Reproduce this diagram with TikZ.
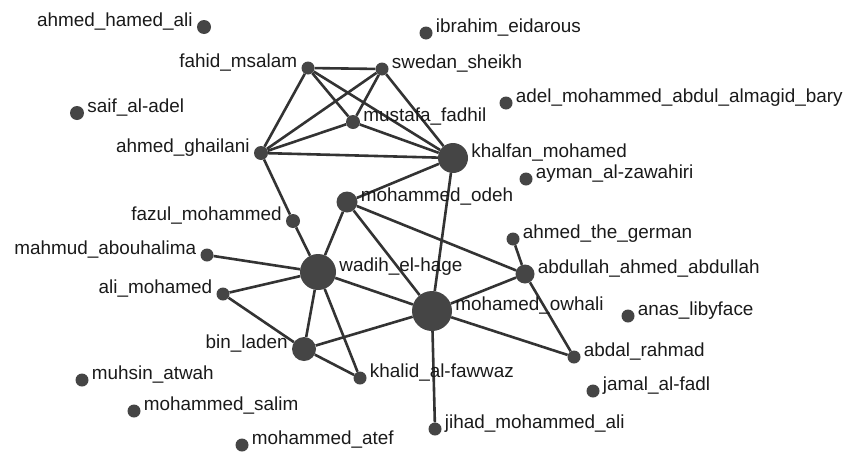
\documentclass[tikz,border=0pt]{standalone}
\usepackage{fontspec}
\setmainfont{Liberation Sans}
\usetikzlibrary{backgrounds}
\definecolor{nodegray}{HTML}{454545}
\definecolor{edgegray}{HTML}{333333}
\definecolor{txtgray}{HTML}{1A1A1A}
\tikzset{
  actor/.style={circle, fill=nodegray, draw=none, inner sep=0pt, minimum size=#1},
  actor/.default={13pt},
  lab/.style={inner sep=0pt, text=txtgray, font=\fontsize{18.9}{20}\selectfont},
  labR/.style={lab, anchor=base west, xshift=3pt, yshift=1pt},
  labL/.style={lab, anchor=base east, xshift=-4pt, yshift=1pt},
  tie/.style={draw=edgegray, line width=2.6pt},
}
\begin{document}
\begin{tikzpicture}[x=1pt, y=-1pt]
\useasboundingbox (0,0) rectangle (848,453);
% actors
\node[actor=14pt] (hamed) at (204,27) {};
\node[actor] (ibrahim) at (426,33) {};
\node[actor] (fahid) at (308,68) {};
\node[actor] (swedan) at (382,69) {};
\node[actor=14pt] (saif) at (77,113) {};
\node[actor=14pt] (mustafa) at (353,122) {};
\node[actor] (adel) at (506,103) {};
\node[actor=14pt] (ghailani) at (261,153) {};
\node[actor=30pt] (khalfan) at (453,158) {};
\node[actor] (ayman) at (526,179) {};
\node[actor=21pt] (odeh) at (347,202) {};
\node[actor=14pt] (fazul) at (293,221) {};
\node[actor] (german) at (513,239) {};
\node[actor] (mahmud) at (207,255) {};
\node[actor=36pt] (wadih) at (318,272) {};
\node[actor=19pt] (abdullah) at (525,274) {};
\node[actor] (alimoh) at (223,294) {};
\node[actor=40pt] (owhali) at (432,311) {};
\node[actor] (anas) at (628,316) {};
\node[actor=24pt] (binladen) at (304,349) {};
\node[actor] (abdal) at (574,357) {};
\node[actor] (muhsin) at (82,380) {};
\node[actor] (khalid) at (360,378) {};
\node[actor] (jamal) at (593,391) {};
\node[actor] (salim) at (134,411) {};
\node[actor] (jihad) at (435,429) {};
\node[actor] (atef) at (242,445) {};
% labels
\node[labL] (hamed-l) at (hamed.west) {ahmed\_hamed\_ali};
\node[labR] (ibrahim-l) at (ibrahim.east) {ibrahim\_eidarous};
\node[labL] (fahid-l) at (fahid.west) {fahid\_msalam};
\node[labR] (swedan-l) at (swedan.east) {swedan\_sheikh};
\node[labR] (saif-l) at (saif.east) {saif\_al-adel};
\node[labR] (mustafa-l) at (mustafa.east) {mustafa\_fadhil};
\node[labR] (adel-l) at (adel.east) {adel\_mohammed\_abdul\_almagid\_bary};
\node[labL] (ghailani-l) at (ghailani.west) {ahmed\_ghailani};
\node[labR] (khalfan-l) at (khalfan.east) {khalfan\_mohamed};
\node[labR] (ayman-l) at (ayman.east) {ayman\_al-zawahiri};
\node[labR] (odeh-l) at (odeh.east) {mohammed\_odeh};
\node[labL] (fazul-l) at (fazul.west) {fazul\_mohammed};
\node[labR] (german-l) at (german.east) {ahmed\_the\_german};
\node[labL] (mahmud-l) at (mahmud.west) {mahmud\_abouhalima};
\node[labR] (wadih-l) at (wadih.east) {wadih\_el-hage};
\node[labR] (abdullah-l) at (abdullah.east) {abdullah\_ahmed\_abdullah};
\node[labL] (alimoh-l) at (alimoh.west) {ali\_mohamed};
\node[labR] (owhali-l) at (owhali.east) {mohamed\_owhali};
\node[labR] (anas-l) at (anas.east) {anas\_libyface};
\node[labL] (binladen-l) at (binladen.west) {bin\_laden};
\node[labR] (abdal-l) at (abdal.east) {abdal\_rahmad};
\node[labR] (muhsin-l) at (muhsin.east) {muhsin\_atwah};
\node[labR] (khalid-l) at (khalid.east) {khalid\_al-fawwaz};
\node[labR] (jamal-l) at (jamal.east) {jamal\_al-fadl};
\node[labR] (salim-l) at (salim.east) {mohammed\_salim};
\node[labR] (jihad-l) at (jihad.east) {jihad\_mohammed\_ali};
\node[labR] (atef-l) at (atef.east) {mohammed\_atef};
% ties
\begin{pgfonlayer}{background}
\draw[tie] (fahid) -- (swedan);
\draw[tie] (fahid) -- (ghailani);
\draw[tie] (fahid) -- (mustafa);
\draw[tie] (fahid) -- (khalfan);
\draw[tie] (swedan) -- (ghailani);
\draw[tie] (swedan) -- (mustafa);
\draw[tie] (swedan) -- (khalfan);
\draw[tie] (mustafa) -- (ghailani);
\draw[tie] (mustafa) -- (khalfan);
\draw[tie] (ghailani) -- (khalfan);
\draw[tie] (ghailani) -- (fazul);
\draw[tie] (fazul) -- (wadih);
\draw[tie] (khalfan) -- (odeh);
\draw[tie] (khalfan) -- (owhali);
\draw[tie] (odeh) -- (wadih);
\draw[tie] (odeh) -- (owhali);
\draw[tie] (odeh) -- (abdullah);
\draw[tie] (german) -- (abdullah);
\draw[tie] (abdullah) -- (owhali);
\draw[tie] (abdullah) -- (abdal);
\draw[tie] (owhali) -- (abdal);
\draw[tie] (owhali) -- (jihad);
\draw[tie] (owhali) -- (wadih);
\draw[tie] (owhali) -- (binladen);
\draw[tie] (wadih) -- (mahmud);
\draw[tie] (wadih) -- (alimoh);
\draw[tie] (wadih) -- (binladen);
\draw[tie] (wadih) -- (khalid);
\draw[tie] (alimoh) -- (binladen);
\draw[tie] (binladen) -- (khalid);
\end{pgfonlayer}
\end{tikzpicture}
\end{document}
